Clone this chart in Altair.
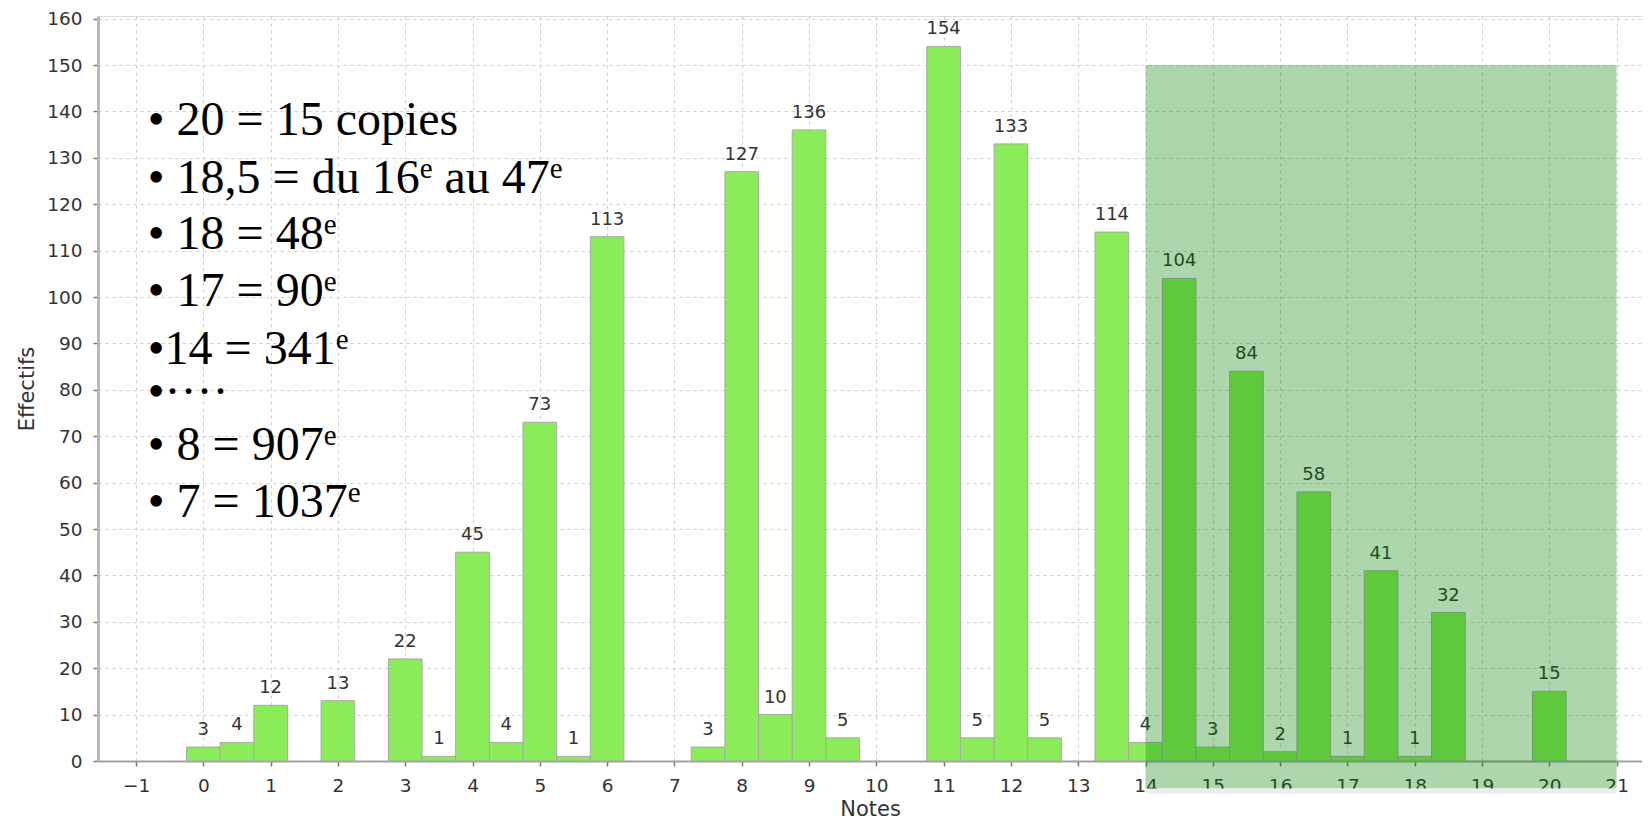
import altair as alt
import pandas as pd

# ---------------- data ----------------
notes = [0, 0.5, 1, 2, 3, 3.5, 4, 4.5, 5, 5.5, 6, 7.5, 8, 8.5, 9, 9.5,
         11, 11.5, 12, 12.5, 13.5, 14, 14.5, 15, 15.5, 16, 16.5, 17, 17.5, 18, 18.5, 20]
effectifs = [3, 4, 12, 13, 22, 1, 45, 4, 73, 1, 113, 3, 127, 10, 136, 5,
             154, 5, 133, 5, 114, 4, 104, 3, 84, 2, 58, 1, 41, 1, 32, 15]
x_ticks = list(range(-1, 22))
y_ticks = list(range(0, 161, 10))
zone_x = [14, 21]
zone_y = [150, -5.9]

# annotation lines: (text, kind) kind: "main" or "sup"
lines = [
    [("• 20 = 15 copies", "main")],
    [("• 18,5 = du 16", "main"), ("e", "sup"), (" au 47", "main"), ("e", "sup")],
    [("• 18 = 48", "main"), ("e", "sup")],
    [("• 17 = 90", "main"), ("e", "sup")],
    [("•14 = 341", "main"), ("e", "sup")],
    [("•····", "main")],
    [("• 8 = 907", "main"), ("e", "sup")],
    [("• 7 = 1037", "main"), ("e", "sup")],
]

# ---------------- layout ----------------
PAD_TOP = 8
W, H = 1544, 745
PX_PER_Y = 4.64
XMIN = -1.565
XMAX = XMIN + W / 67.3
YMAX = H / PX_PER_Y
xs = alt.Scale(domain=[XMIN, XMAX], nice=False, zero=False)
ys = alt.Scale(domain=[0, YMAX], nice=False, zero=False)

TNR = {' ': 0.25, '•': 0.35, '·': 0.25, ',': 0.25, '=': 0.564, 'a': 0.444, 'c': 0.444,
       'd': 0.5, 'e': 0.444, 'i': 0.278, 'o': 0.5, 'p': 0.5, 's': 0.389, 'u': 0.5}
for _d in "0123456789":
    TNR[_d] = 0.5


def tw(s, size):
    return sum(TNR.get(c, 0.5) for c in s) * size


SIZES = {"main": 48, "sup": 29}
RISE = {"main": 0, "sup": 15}
# baselines in page pixels, converted to plot-relative
page_baselines = [135, 192.5, 249, 306, 363.5, 406.7, 460, 516.7]
baselines = [b - 8 - PAD_TOP for b in page_baselines]
X_LEFT = 49.8

rows = []
for i, segs in enumerate(lines):
    px = X_LEFT
    for text, kind in segs:
        size = SIZES[kind]
        lead = len(text) - len(text.lstrip(" "))
        px += tw(" " * lead, size)
        body = text.strip(" ")
        py = baselines[i] - RISE[kind]
        rows.append({
            "t": body,
            "fs": size,
            "xd": XMIN + px * (XMAX - XMIN) / W,
            "yd": YMAX * (1 - py / H),
        })
        px += tw(text.lstrip(" "), size)
text_df = pd.DataFrame(rows)

bars_df = pd.DataFrame({"note": notes, "n": effectifs})
zone_df = pd.DataFrame({"x": [zone_x[0]], "x2": [zone_x[1]], "y": [zone_y[0]], "y2": [zone_y[1]]})
strip_df = pd.DataFrame({"x": [zone_x[0]], "x2": [zone_x[1]], "y": [zone_y[1]], "y2": [zone_y[1] - 1.1]})

x_axis = alt.Axis(values=x_ticks, format="d", title="Notes", titleFont="DejaVu Sans",
                  titleFontSize=21, titleFontWeight="normal", titleColor="#333333",
                  titleY=54, titleBaseline="alphabetic",
                  labelFont="DejaVu Sans", labelFontSize=18.5, labelColor="#333333",
                  labelPadding=10, tickSize=5, tickColor="#777777", tickWidth=1.5,
                  domainColor="#a0a0a0", domainWidth=2,
                  gridColor="#cccccc", gridDash=[3, 4], gridWidth=1)
y_axis = alt.Axis(values=y_ticks, format="d", title="Effectifs", titleFont="DejaVu Sans",
                  titleFontSize=21, titleFontWeight="normal", titleColor="#333333",
                  titleX=-65, titleY=H / 2, titleBaseline="alphabetic",
                  labelFont="DejaVu Sans", labelFontSize=18.5, labelColor="#333333",
                  labelPadding=11, tickSize=5, tickColor="#777777", tickWidth=1.5,
                  domainColor="#b8b8b8", domainWidth=3,
                  gridColor="#cccccc", gridDash=[3, 4], gridWidth=1)

base = alt.Chart(bars_df).transform_calculate(
    x0="datum.note - 0.25", x1="datum.note + 0.25")

bars = base.mark_rect(fill="#8aec58", stroke="#a8a8a8", strokeWidth=1).encode(
    x=alt.X("x0:Q", scale=xs, axis=x_axis),
    x2="x1:Q",
    y=alt.Y("n:Q", scale=ys, axis=y_axis),
    y2=alt.datum(0),
)

labels = alt.Chart(bars_df).mark_text(
    font="DejaVu Sans", fontSize=18, color="#333333", baseline="alphabetic",
    align="center", dy=-12).encode(
    x=alt.X("note:Q", scale=xs),
    y=alt.Y("n:Q", scale=ys),
    text=alt.Text("n:Q", format="d"),
)

zone = alt.Chart(zone_df).mark_rect(fill="green", opacity=0.32).encode(
    x=alt.X("x:Q", scale=xs), x2="x2:Q",
    y=alt.Y("y:Q", scale=ys), y2="y2:Q",
)

strip = alt.Chart(strip_df).mark_rect(fill="#ededed").encode(
    x=alt.X("x:Q", scale=xs), x2="x2:Q",
    y=alt.Y("y:Q", scale=ys), y2="y2:Q",
)

notes_text = alt.Chart(text_df).mark_text(
    font="Liberation Serif", color="#000000", align="left", baseline="alphabetic").encode(
    x=alt.X("xd:Q", scale=xs),
    y=alt.Y("yd:Q", scale=ys),
    text="t:N",
    size=alt.Size("fs:Q", scale=None, legend=None),
)

chart = alt.layer(bars, labels, notes_text, zone, strip).properties(
    width=W, height=H,
    padding={"left": 90, "top": PAD_TOP, "right": 0, "bottom": 59},
    autosize=alt.AutoSizeParams(type="none"),
).configure_view(stroke=None).configure(background="white")

chart.save("out.html", embed_options={"renderer": "svg", "actions": False})
